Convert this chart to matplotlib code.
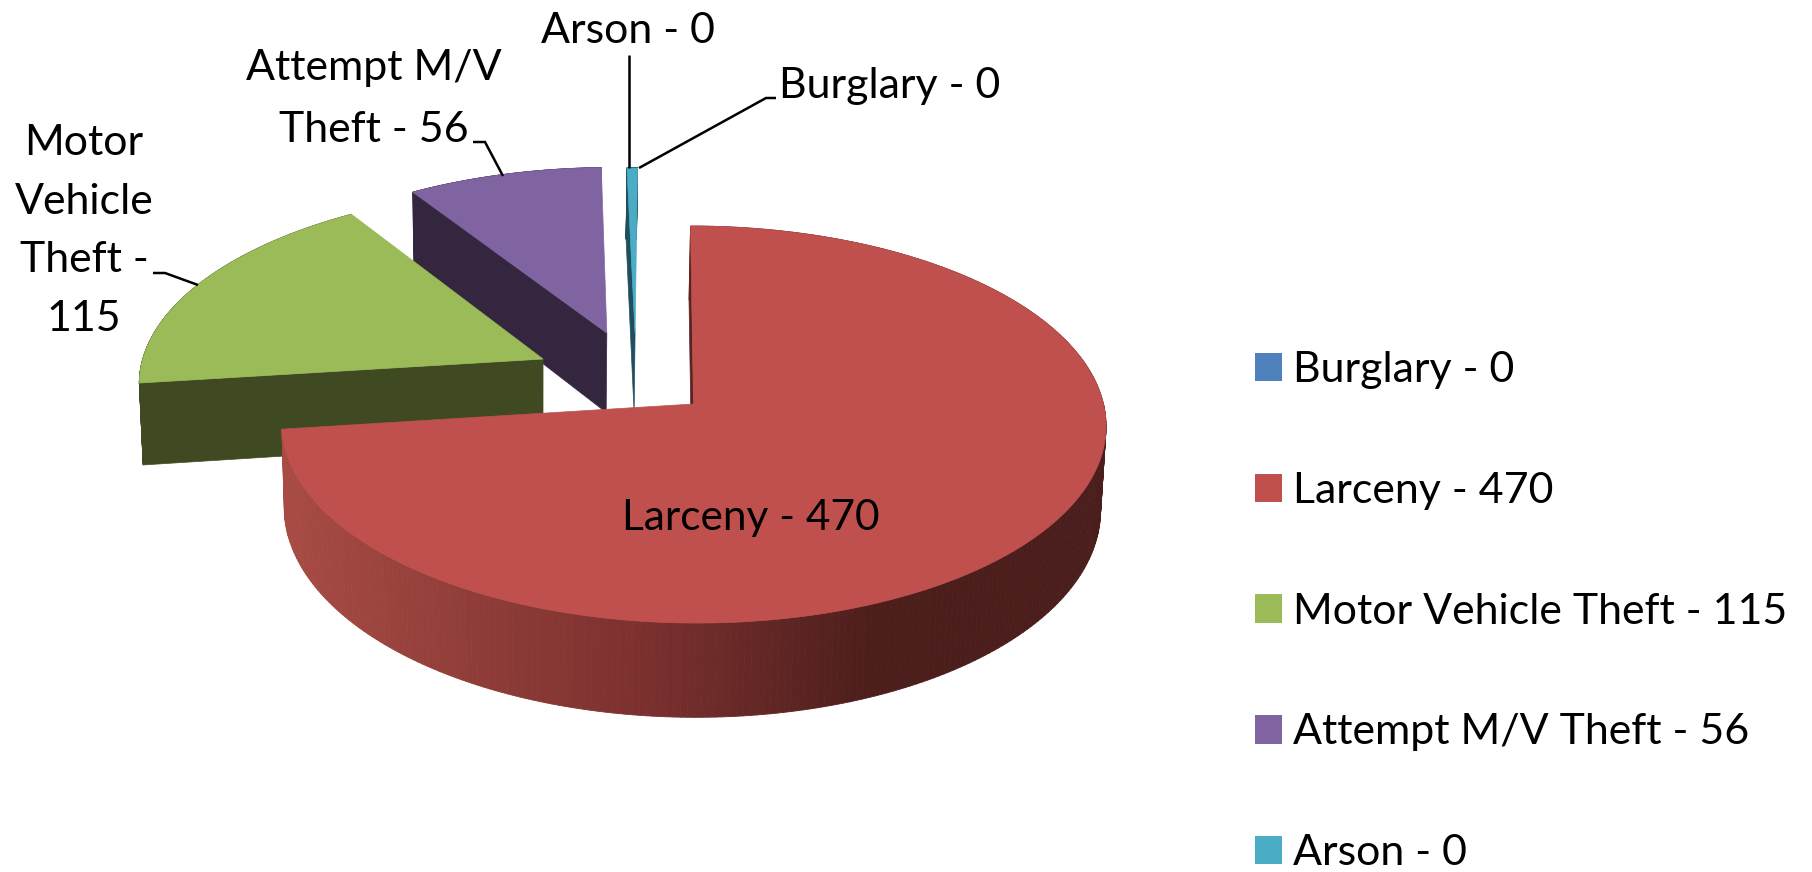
import numpy as np
import matplotlib
matplotlib.use("Agg")
import matplotlib.pyplot as plt
from matplotlib.collections import PolyCollection
from matplotlib.colors import LinearSegmentedColormap
from matplotlib.patches import Patch, Polygon

plt.rcParams['font.family'] = ['Lato', 'DejaVu Sans']

# ---- data ----
categories = ["Burglary", "Larceny", "Motor Vehicle Theft", "Attempt M/V Theft", "Arson"]
label_values = [0, 470, 115, 56, 0]
# the zero slices are still drawn as a sliver in the original chart
drawn_values = [0, 470, 115, 56, 3]
top_colors = ["#4f81bd", "#c0504d", "#9bbb59", "#8064a2", "#4bacc6"]
side_colors = ["#27405e", "#5a2320", "#3f4a22", "#35263f", "#1f4f5e"]
explode_x = [0.0, 0.0, -0.374, -0.2166, -0.145]
explode_y = [0.0, 0.0, 0.2345, 0.3754, 0.372]
draw_order = [3, 4, 2, 1]

legend_labels = [f"{c} - {v}" for c, v in zip(categories, label_values)]

# ---- projection of the tilted pie ----
P = 0.1034
TOP = dict(cx=693.5, cy=404.0, ax=410.0, ay=196.4, sh=-3.3)
BOT = dict(cx=692.0, cy=487.0, ax=406.0, ay=206.5, sh=-3.3)


def project(X, Y, pl):
    X, Y = np.asarray(X, float), np.asarray(Y, float)
    w = 1 + P * Y
    return pl['cx'] + (pl['ax'] * X + pl['sh'] * Y) / w, pl['cy'] - pl['ay'] * Y / w


fig = plt.figure(figsize=(18.12, 8.72), dpi=100, facecolor="white")
ax = fig.add_axes([0, 0, 1, 1])
ax.set_xlim(0, 1812)
ax.set_ylim(872, 0)
ax.axis("off")

fracs = np.array(drawn_values, float) / sum(drawn_values) * 360
starts = np.concatenate([[0], np.cumsum(fracs)[:-1]])
rim_cmap = LinearSegmentedColormap.from_list(
    "rim", [(0, "#a84b44"), (0.45, "#7a302e"), (0.72, "#4c1e1c"), (1, "#4a1e1c")])

for i in draw_order:
    a = np.radians(np.linspace(starts[i], starts[i] + fracs[i], 300))
    ex, ey = explode_x[i], explode_y[i]
    X, Y = np.sin(a) + ex, np.cos(a) + ey
    tx, ty = project(X, Y, TOP)
    bx, by = project(X, Y, BOT)
    ax0, ay0 = project(ex, ey, TOP)
    bx0, by0 = project(ex, ey, BOT)
    # outer rim
    quads = [[(tx[k], ty[k]), (tx[k + 1], ty[k + 1]), (bx[k + 1], by[k + 1]), (bx[k], by[k])]
             for k in range(len(a) - 1)]
    if i == 1:
        cols = [rim_cmap((tx[k] - 280) / 830) for k in range(len(a) - 1)]
    else:
        cols = [side_colors[i]] * len(quads)
    ax.add_collection(PolyCollection(quads, facecolors=cols, edgecolors=cols, linewidths=0.6))
    # visible radial face (the one at the start of each slice)
    ax.add_patch(Polygon([(tx[0], ty[0]), (ax0, ay0), (bx0, by0), (bx[0], by[0])],
                         closed=True, fc=side_colors[i], ec=side_colors[i], lw=0.5))
    # top surface
    ax.add_patch(Polygon(np.column_stack([np.r_[ax0, tx], np.r_[ay0, ty]]),
                         closed=True, fc=top_colors[i], ec=top_colors[i], lw=0.5))

# ---- data labels and leader lines ----
FS = 30.9
ax.text(627.5, 31, legend_labels[4], ha="center", va="center", fontsize=FS, color="black")
ax.text(779, 86, legend_labels[0], ha="left", va="center", fontsize=FS, color="black")
ax.text(374, 99, "Attempt M/V\nTheft - 56", ha="center", va="center", fontsize=FS,
        color="black", linespacing=1.76)
ax.text(84, 231, "Motor\nVehicle\nTheft -\n115", ha="center", va="center", fontsize=FS,
        color="black", linespacing=1.66)
ax.text(751, 518, legend_labels[1], ha="center", va="center", fontsize=30.5, color="black")

leaders = [([629, 629], [55, 168]),
           ([639, 766, 776], [168, 98, 98]),
           ([473, 485, 503], [142, 142, 176]),
           ([153, 165, 198], [273, 273, 285])]
for lx, ly in leaders:
    ax.plot(lx, ly, color="black", lw=1.8, solid_joinstyle="miter", solid_capstyle="butt")

# ---- legend ----
handles = [Patch(fc=c, ec="none", label=l) for c, l in zip(top_colors, legend_labels)]
ax.legend(handles=handles, loc="upper left", bbox_to_anchor=(1255 / 1812, 1 - 351 / 872),
          frameon=False, fontsize=FS, labelspacing=1.93, handlelength=0.64, handleheight=0.64,
          handletextpad=0.25, borderaxespad=0, borderpad=0)

fig.savefig("out.png", dpi=100, facecolor="white")
